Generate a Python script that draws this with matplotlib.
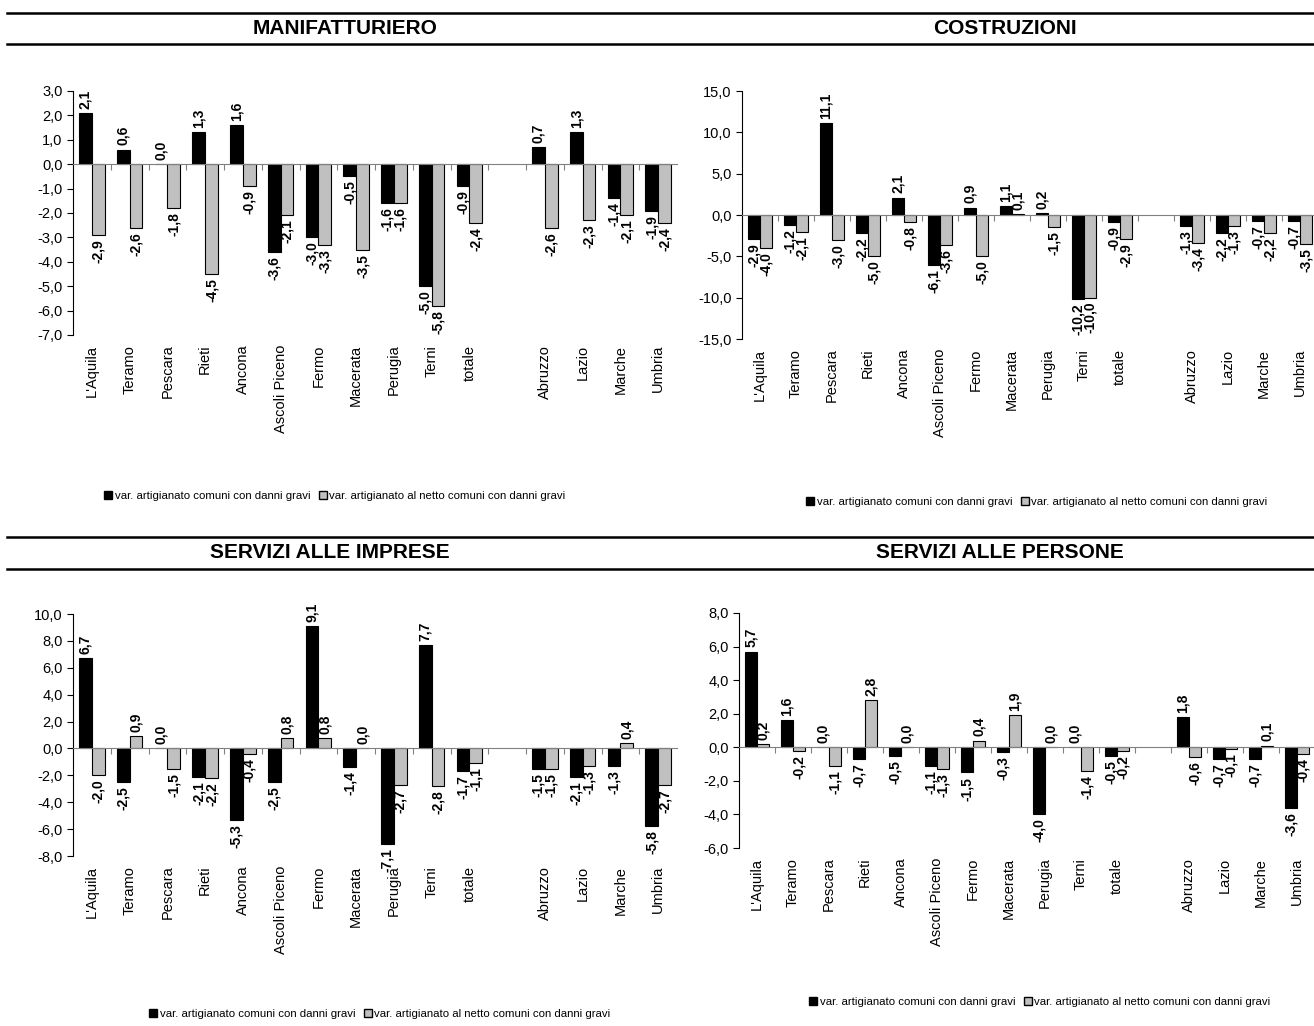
import numpy as np
import matplotlib
matplotlib.use("Agg")
import matplotlib.pyplot as plt
from matplotlib.patches import Patch
from matplotlib.lines import Line2D
from matplotlib.ticker import FuncFormatter, MultipleLocator

plt.rcParams['font.family'] = ['Liberation Sans', 'DejaVu Sans']

# Dati
categorie = ["L'Aquila", "Teramo", "Pescara", "Rieti", "Ancona", "Ascoli Piceno", "Fermo",
             "Macerata", "Perugia", "Terni", "totale", "",
             "Abruzzo", "Lazio", "Marche", "Umbria"]
nan = np.nan

manif_danni = [2.1, 0.6, 0.0, 1.3, 1.6, -3.6, -3.0, -0.5, -1.6, -5.0, -0.9, nan, 0.7, 1.3, -1.4, -1.9]
manif_netto = [-2.9, -2.6, -1.8, -4.5, -0.9, -2.1, -3.3, -3.5, -1.6, -5.8, -2.4, nan, -2.6, -2.3, -2.1, -2.4]

costr_danni = [-2.9, -1.2, 11.1, -2.2, 2.1, -6.1, 0.9, 1.1, 0.2, -10.2, -0.9, nan, -1.3, -2.2, -0.7, -0.7]
costr_netto = [-4.0, -2.1, -3.0, -5.0, -0.8, -3.6, -5.0, 0.1, -1.5, -10.0, -2.9, nan, -3.4, -1.3, -2.2, -3.5]

impr_danni = [6.7, -2.5, 0.0, -2.1, -5.3, -2.5, 9.1, -1.4, -7.1, 7.7, -1.7, nan, -1.5, -2.1, -1.3, -5.8]
impr_netto = [-2.0, 0.9, -1.5, -2.2, -0.4, 0.8, 0.8, 0.0, -2.7, -2.8, -1.1, nan, -1.5, -1.3, 0.4, -2.7]

pers_danni = [5.7, 1.6, 0.0, -0.7, -0.5, -1.1, -1.5, -0.3, -4.0, 0.0, -0.5, nan, 1.8, -0.7, -0.7, -3.6]
pers_netto = [0.2, -0.2, -1.1, 2.8, 0.0, -1.3, 0.4, 1.9, 0.0, -1.4, -0.2, nan, -0.6, -0.1, 0.1, -0.4]

legenda = ["var. artigianato comuni con danni gravi", "var. artigianato al netto comuni con danni gravi"]

W, H = 1314, 1026
fig = plt.figure(figsize=(W / 100, H / 100), dpi=100)


def box(x0, y0, x1, y1):
    # pixel -> coordinate figura
    return [x0 / W, 1 - y1 / H, (x1 - x0) / W, (y1 - y0) / H]


def virgola(v):
    return f"{v:.1f}".replace(".", ",")


def pannello(rect, danni, netto, ymin, ymax, passo):
    ax = fig.add_axes(rect)
    x = np.arange(len(categorie))
    w = 0.34
    ax.bar(x - w / 2, danni, w, color="black", edgecolor="black", linewidth=0.8)
    ax.bar(x + w / 2, netto, w, color="#c0c0c0", edgecolor="black", linewidth=0.8)
    for serie, dx in ((danni, -w / 2), (netto, w / 2)):
        for xi, v in zip(x, serie):
            if np.isnan(v):
                continue
            up = v >= 0
            ax.annotate(virgola(v), (xi + dx, v), xytext=(0, 3 if up else -3),
                        textcoords="offset points", rotation=90, ha="center",
                        va="bottom" if up else "top", fontsize=10, fontweight="bold")
    ax.set_xlim(-0.5, len(categorie) - 0.5)
    ax.set_ylim(ymin, ymax)
    ax.yaxis.set_major_locator(MultipleLocator(passo))
    ax.yaxis.set_major_formatter(FuncFormatter(lambda v, p: virgola(v)))
    ax.tick_params(axis="y", direction="out", length=4, labelsize=10.5, width=0.8)
    ax.set_xticks(np.arange(0.5, len(categorie) - 0.5, 1))
    ax.set_xticklabels([])
    ax.tick_params(axis="x", direction="out", length=4, color="#808080", width=0.8)
    ax.spines["top"].set_visible(False)
    ax.spines["right"].set_visible(False)
    ax.spines["bottom"].set_position(("data", 0))
    ax.spines["bottom"].set_color("#808080")
    ax.spines["left"].set_linewidth(0.8)
    for xi, nome in zip(x, categorie):
        ax.annotate(nome, (xi, 0), xycoords=("data", "axes fraction"), xytext=(0, -7),
                    textcoords="offset points", rotation=90, ha="center", va="top",
                    fontsize=10.5)
    return ax


pannello(box(73, 91, 677, 335), manif_danni, manif_netto, -7, 3, 1)
pannello(box(742, 91, 1318, 339), costr_danni, costr_netto, -15, 15, 5)
pannello(box(73, 614, 677, 856), impr_danni, impr_netto, -8, 10, 2)
pannello(box(739, 613, 1315, 848), pers_danni, pers_netto, -6, 8, 2)

# titoli e linee
for y in (13, 44, 537, 569):
    fig.add_artist(Line2D([7 / W, 1], [1 - y / H, 1 - y / H], color="black", lw=1.8))
titoli = [("MANIFATTURIERO", 345, 29), ("COSTRUZIONI", 1005, 29),
          ("SERVIZI ALLE IMPRESE", 330, 553), ("SERVIZI ALLE PERSONE", 1000, 553)]
for t, xc, yc in titoli:
    fig.text(xc / W, 1 - yc / H, t, ha="center", va="center", fontsize=15, fontweight="bold")

# legende
handles = [Patch(facecolor="black", edgecolor="black"),
           Patch(facecolor="#c0c0c0", edgecolor="black")]
for xc, yc in ((335, 496), (1037, 502), (380, 1014), (1040, 1002)):
    fig.legend(handles, legenda, loc="center", bbox_to_anchor=(xc / W, 1 - yc / H),
               ncol=2, frameon=False, fontsize=8.2, handlelength=0.7, handleheight=0.7,
               handletextpad=0.2, columnspacing=0.8, borderpad=0)

fig.savefig("out.png", dpi=100)
